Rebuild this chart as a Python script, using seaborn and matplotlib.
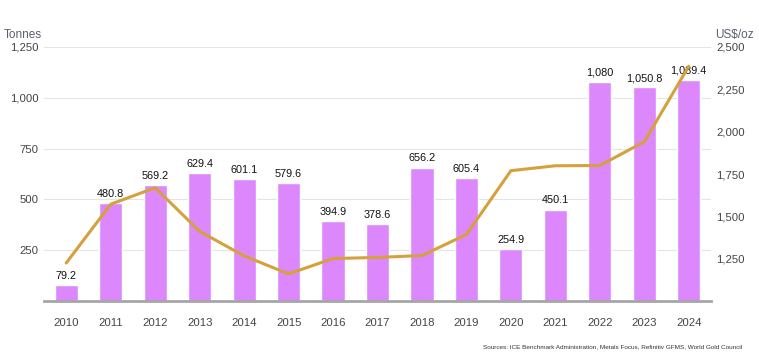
import numpy as np
import matplotlib
matplotlib.use("Agg")
import matplotlib.pyplot as plt
import seaborn as sns

years = ["2010", "2011", "2012", "2013", "2014", "2015", "2016", "2017",
         "2018", "2019", "2020", "2021", "2022", "2023", "2024"]
tonnes = [79.2, 480.8, 569.2, 629.4, 601.1, 579.6, 394.9, 378.6,
          656.2, 605.4, 254.9, 450.1, 1080.0, 1050.8, 1089.4]
tonne_labels = ["79.2", "480.8", "569.2", "629.4", "601.1", "579.6", "394.9", "378.6",
                "656.2", "605.4", "254.9", "450.1", "1,080", "1,050.8", "1,089.4"]
price = [1224.5, 1571.5, 1669.0, 1411.2, 1266.4, 1160.1, 1250.8, 1257.2,
         1268.5, 1392.6, 1769.6, 1798.6, 1800.1, 1940.5, 2386.2]
left_ticks = [250, 500, 750, 1000, 1250]
right_ticks = [1250, 1500, 1750, 2000, 2250, 2500]

sns.set_style("white")
plt.rcParams["font.family"] = ["Liberation Sans", "DejaVu Sans"]

fig, ax = plt.subplots(figsize=(7.59, 3.61), dpi=100)
fig.subplots_adjust(left=44/759, right=711/759, bottom=1-301/361, top=1-47/361)

sns.barplot(x=years, y=tonnes, color="#dc88fc", saturation=1, width=0.52, ax=ax, zorder=2)
ax.bar_label(ax.containers[0], labels=tonne_labels, padding=3, fontsize=7.8, color="#111111")
ax.set_ylim(0, 1250)
ax.set_xlim(-0.5, len(years) - 0.5)
ax.set_yticks(left_ticks)
ax.set_yticklabels([f"{v:,}" for v in left_ticks])
ax.yaxis.grid(True, color="#e4e4e4", lw=0.8, zorder=0)
ax.set_axisbelow(True)
ax.tick_params(axis="both", length=0, labelsize=8.2, labelcolor="#444444")
ax.tick_params(axis="x", pad=12)
ax.tick_params(axis="y", pad=4)
for s in ["top", "right", "left"]:
    ax.spines[s].set_visible(False)
ax.spines["bottom"].set_color("#a6a6a6")
ax.spines["bottom"].set_linewidth(2)
ax.set_xlabel("")
ax.set_ylabel("")

ax2 = ax.twinx()
sns.lineplot(x=np.arange(len(years)), y=price, color="#d4a13c", lw=2.2, ax=ax2)
ax2.set_ylim(1000, 2500)
ax2.set_yticks(right_ticks)
ax2.set_yticklabels([f"{v:,}" for v in right_ticks])
ax2.tick_params(axis="y", length=0, labelsize=8.2, labelcolor="#444444", pad=4)
for s in ["top", "right", "left", "bottom"]:
    ax2.spines[s].set_visible(False)
ax2.grid(False)

fig.text(4/759, 1-35/361, "Tonnes", fontsize=8.5, color="#5a6070", va="center", ha="left")
fig.text(715/759, 1-35/361, "US$/oz", fontsize=8.5, color="#5a6070", va="center", ha="left")
fig.text(742/759, 1-347/361, "Sources: ICE Benchmark Administration, Metals Focus, Refinitiv GFMS, World Gold Council",
         fontsize=4.6, color="#333333", va="center", ha="right")

fig.savefig("out.png", dpi=100)
